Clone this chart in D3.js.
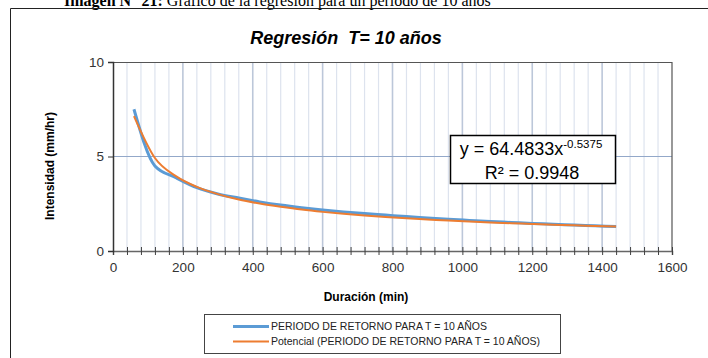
<!DOCTYPE html>
<html>
<head>
<meta charset="utf-8">
<script src="https://cdn.jsdelivr.net/npm/d3@7"></script>
<style>
  body { margin: 0; background: #fff; }
  svg { display: block; }
</style>
</head>
<body>
<div id="chart"></div>
<script>
  // data
  var duracion = [60, 120, 180, 240, 300, 360, 420, 480, 540, 600, 660, 720, 780, 840, 900, 960, 1020, 1080, 1140, 1200, 1260, 1320, 1380, 1440];
  var intensidad = [7.50, 4.50, 3.88, 3.35, 3.02, 2.80, 2.60, 2.43, 2.29, 2.17, 2.07, 1.98, 1.90, 1.82, 1.75, 1.68, 1.62, 1.56, 1.51, 1.46, 1.42, 1.37, 1.33, 1.29];
  var potencial = [7.14, 4.92, 3.96, 3.39, 3.01, 2.72, 2.51, 2.34, 2.19, 2.07, 1.97, 1.88, 1.80, 1.73, 1.67, 1.61, 1.56, 1.51, 1.47, 1.43, 1.39, 1.36, 1.32, 1.29];
  var xTicks = [0, 200, 400, 600, 800, 1000, 1200, 1400, 1600];
  var xMinor = [0, 40, 80, 120, 160, 200, 240, 280, 320, 360, 400, 440, 480, 520, 560, 600, 640, 680, 720, 760, 800, 840, 880, 920, 960, 1000, 1040, 1080, 1120, 1160, 1200, 1240, 1280, 1320, 1360, 1400, 1440, 1480, 1520, 1560, 1600];
  var yTicks = [0, 5, 10];
  var seriesNames = ["PERIODO DE RETORNO PARA T = 10 AÑOS", "Potencial (PERIODO DE RETORNO PARA T = 10 AÑOS)"];

  var W = 708, H = 358;
  var margin = {top: 62, right: 36, bottom: 107, left: 113},
    width = W - margin.left - margin.right,
    height = H - margin.top - margin.bottom;

  var svg = d3.select("#chart").append("svg")
    .attr("width", W)
    .attr("height", H);

  // caption of the document, cut at the top like in the source
  svg.append("text")
    .attr("x", 64).attr("y", 6)
    .attr("font-family", "Liberation Serif")
    .attr("font-size", 16)
    .attr("fill", "#000")
    .html('<tspan font-weight="bold">Imagen N° 21:</tspan> Gráfico de la regresión para un periodo de 10 años');

  // chart frame
  svg.append("path")
    .attr("d", "M10.5," + (H + 2) + "V8.5H" + (W + 2))
    .attr("fill", "none")
    .attr("stroke", "#222")
    .attr("stroke-width", 1);

  var g = svg.append("g")
    .attr("transform", "translate(" + margin.left + "," + margin.top + ")");

  var x = d3.scaleLinear().domain([0, 1600]).range([0, width]);
  var y = d3.scaleLinear().domain([0, 10]).range([height, 0]);

  // minor vertical grid
  g.selectAll("line.minor")
    .data(xMinor.filter(function(d) { return xTicks.indexOf(d) < 0; }))
    .enter().append("line")
      .attr("class", "minor")
      .attr("x1", function(d) { return x(d); })
      .attr("x2", function(d) { return x(d); })
      .attr("y1", 0).attr("y2", height)
      .attr("stroke", "#dde3ee")
      .attr("stroke-width", 1.2);

  // major vertical grid
  g.selectAll("line.major")
    .data(xTicks.slice(1, -1))
    .enter().append("line")
      .attr("class", "major")
      .attr("x1", function(d) { return x(d); })
      .attr("x2", function(d) { return x(d); })
      .attr("y1", 0).attr("y2", height)
      .attr("stroke", "#bcc7d9")
      .attr("stroke-width", 1.6);

  // horizontal grid
  g.selectAll("line.hgrid")
    .data(yTicks.slice(1, -1))
    .enter().append("line")
      .attr("class", "hgrid")
      .attr("x1", 0).attr("x2", width)
      .attr("y1", function(d) { return y(d); })
      .attr("y2", function(d) { return y(d); })
      .attr("stroke", "#93a8c9")
      .attr("stroke-width", 1);

  // plot border (top, right)
  g.append("path")
    .attr("d", "M0,0.5H" + width + "V" + height)
    .attr("fill", "none")
    .attr("stroke", "#555")
    .attr("stroke-width", 1.2);

  // x axis with crossing minor ticks
  var xAxisG = g.append("g")
    .attr("transform", "translate(0," + height + ")")
    .call(d3.axisBottom(x).tickValues(xMinor).tickSize(4).tickFormat(""));
  xAxisG.selectAll(".tick line").attr("y1", -4).attr("stroke", "#404040");
  xAxisG.select(".domain").attr("stroke", "#666").attr("stroke-width", 1.5);

  var xLab = g.append("g")
    .attr("transform", "translate(0," + height + ")")
    .call(d3.axisBottom(x).tickValues(xTicks).tickSize(0).tickPadding(11).tickFormat(d3.format("d")));
  xLab.select(".domain").remove();
  xLab.selectAll("text")
    .attr("font-family", "Liberation Sans, Arial")
    .attr("font-size", 13.5)
    .attr("fill", "#333");

  // y axis
  var yAxisG = g.append("g")
    .call(d3.axisLeft(y).tickValues(yTicks).tickSize(5).tickPadding(4));
  yAxisG.select(".domain").attr("stroke", "#333").attr("stroke-width", 1.5);
  yAxisG.selectAll(".tick line").attr("stroke", "#333");
  yAxisG.selectAll("text")
    .attr("font-family", "Liberation Sans, Arial")
    .attr("font-size", 13.5)
    .attr("fill", "#333");

  // series
  var line = d3.line()
    .x(function(d) { return x(d[0]); })
    .y(function(d) { return y(d[1]); })
    .curve(d3.curveMonotoneX);

  g.append("path")
    .datum(d3.zip(duracion, intensidad))
    .attr("d", line)
    .attr("fill", "none")
    .attr("stroke", "#5b9bd5")
    .attr("stroke-width", 3)
    .attr("stroke-linejoin", "round");

  g.append("path")
    .datum(d3.zip(duracion, potencial))
    .attr("d", line)
    .attr("fill", "none")
    .attr("stroke", "#ed7d31")
    .attr("stroke-width", 2);

  // title
  svg.append("text")
    .attr("x", 346).attr("y", 44)
    .attr("text-anchor", "middle")
    .attr("font-family", "Liberation Sans, Arial")
    .attr("font-size", 18)
    .attr("font-weight", "bold")
    .attr("font-style", "italic")
    .attr("fill", "#000")
    .style("white-space", "pre")
    .text("Regresión  T= 10 años");

  // axis titles
  svg.append("text")
    .attr("x", 366).attr("y", 301)
    .attr("text-anchor", "middle")
    .attr("font-family", "Liberation Sans, Arial")
    .attr("font-size", 12)
    .attr("font-weight", "bold")
    .text("Duración (min)");

  svg.append("text")
    .attr("transform", "translate(54,166) rotate(-90)")
    .attr("text-anchor", "middle")
    .attr("font-family", "Liberation Sans, Arial")
    .attr("font-size", 12)
    .attr("font-weight", "bold")
    .text("Intensidad (mm/hr)");

  // trendline equation box
  var eq = svg.append("g");
  eq.append("rect")
    .attr("x", 450.5).attr("y", 135.5)
    .attr("width", 165).attr("height", 48)
    .attr("fill", "#fff")
    .attr("stroke", "#000")
    .attr("stroke-width", 1.5);
  eq.append("text")
    .attr("x", 531).attr("y", 155)
    .attr("text-anchor", "middle")
    .attr("font-family", "Liberation Sans, Arial")
    .attr("font-size", 18)
    .html('y = 64.4833x<tspan font-size="11.5" dy="-7">-0.5375</tspan>');
  eq.append("text")
    .attr("x", 532).attr("y", 179)
    .attr("text-anchor", "middle")
    .attr("font-family", "Liberation Sans, Arial")
    .attr("font-size", 18)
    .text("R² = 0.9948");

  // legend
  var legend = svg.append("g");
  legend.append("rect")
    .attr("x", 204.5).attr("y", 314.5)
    .attr("width", 356).attr("height", 39)
    .attr("fill", "#fff")
    .attr("stroke", "#444")
    .attr("stroke-width", 1);
  var colors = ["#5b9bd5", "#ed7d31"];
  var widths = [3, 2];
  seriesNames.forEach(function(name, i) {
    var ly = 326.5 + i * 15;
    legend.append("line")
      .attr("x1", 233).attr("x2", 269)
      .attr("y1", ly).attr("y2", ly)
      .attr("stroke", colors[i])
      .attr("stroke-width", widths[i]);
    legend.append("text")
      .attr("x", 271).attr("y", ly + 3.5)
      .attr("font-family", "Liberation Sans, Arial")
      .attr("font-size", 10.5)
      .attr("fill", "#222")
      .text(name);
  });
</script>
</body>
</html>
